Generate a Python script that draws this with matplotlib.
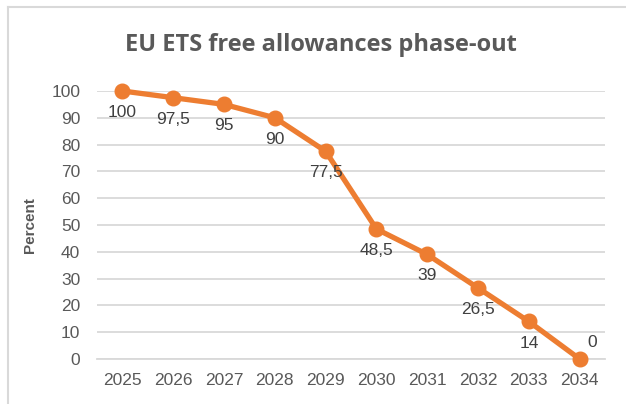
import matplotlib.pyplot as plt
from matplotlib.lines import Line2D

# données
years = ["2025", "2026", "2027", "2028", "2029", "2030", "2031", "2032", "2033", "2034"]
percent = [100, 97.5, 95, 90, 77.5, 48.5, 39, 26.5, 14, 0]
labels = ["100", "97,5", "95", "90", "77,5", "48,5", "39", "26,5", "14", "0"]

orange = "#ED7D31"
grey = "#595959"
grid = "#D9D9D9"

plt.rcParams["font.family"] = ["Liberation Sans", "DejaVu Sans"]

fig = plt.figure(figsize=(6.26, 4.04), dpi=100)
ax = fig.add_axes([0.155, 0.1114, 0.8115, 0.6634])

x = list(range(len(years)))
ax.plot(x, percent, color=orange, lw=3.8, marker="o", ms=10.5, zorder=3, clip_on=False)

for i, (v, lab) in enumerate(zip(percent, labels)):
    if i == len(percent) - 1:
        ax.annotate(lab, (i, v), xytext=(9, 12), textcoords="offset points",
                    ha="center", va="center", fontsize=12.5, color="#404040")
    else:
        ax.annotate(lab, (i, v), xytext=(0, -15.5), textcoords="offset points",
                    ha="center", va="center", fontsize=12.5, color="#404040")

ax.set_xlim(-0.5, len(years) - 0.5)
ax.set_ylim(0, 100)
ax.set_yticks(range(0, 101, 10))
ax.set_xticks(x)
ax.set_xticklabels(years)
ax.tick_params(length=0, labelsize=12.5, labelcolor=grey)
ax.tick_params(axis="y", pad=12)
ax.tick_params(axis="x", pad=10)
ax.grid(axis="y", color=grid, lw=1.3)
ax.set_axisbelow(True)
for s in ["top", "right", "left"]:
    ax.spines[s].set_visible(False)
ax.spines["bottom"].set_color(grid)
ax.spines["bottom"].set_linewidth(1.3)

ax.set_ylabel("Percent", fontsize=11, fontweight="bold", color=grey, labelpad=10)
fig.text(0.512, 0.889, "EU ETS free allowances phase-out", ha="center", va="center",
         fontsize=17, fontweight="bold", color=grey, family=["Open Sans", "DejaVu Sans"])

# cadre du graphique
fig.add_artist(Line2D([0.013, 0.013], [0, 0.983], color=grid, lw=1.5))
fig.add_artist(Line2D([0.013, 1], [0.983, 0.983], color=grid, lw=1.5))

fig.savefig("out.png", dpi=100)
